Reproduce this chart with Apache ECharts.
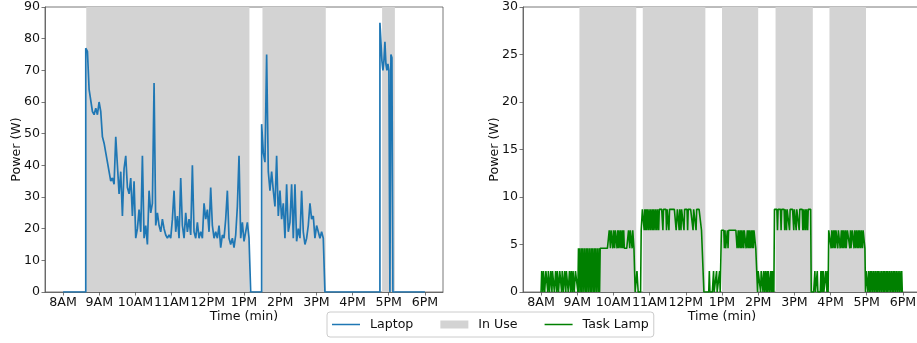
<!DOCTYPE html>
<html>
<head>
<meta charset="utf-8">
<script src="https://cdn.jsdelivr.net/npm/echarts@6/dist/echarts.min.js"></script>
<style>
  html, body { margin: 0; padding: 0; background: #fff; }
  #chart { width: 917px; height: 343px; }
</style>
</head>
<body>
<div id="chart"></div>
<script>
// Time axis is in minutes after midnight; ticks every hour from 8AM to 6PM.
const hourTicks = [480, 540, 600, 660, 720, 780, 840, 900, 960, 1020, 1080];
const hourLabels = ['8AM', '9AM', '10AM', '11AM', '12PM', '1PM', '2PM', '3PM', '4PM', '5PM', '6PM'];

// Periods when each device was in use: [start minute, end minute]
const laptopInUse = [[518.4, 789], [810.6, 915.6], [1009, 1030.2]];
const lampInUse = [[543.6, 637.8], [648.6, 752.4], [780, 840], [868.8, 930.6], [958.2, 1018.8]];

// Laptop power (W): three powered-on runs, each sampled at a fixed step (minutes)
const laptopDayStart = 480;
const laptopDayEnd = 1080;
const laptopRun1Start = 517.6;
const laptopRun1Step = 2.7625;
const laptopRun1 = [
  77, 76, 64, 64, 57, 56, 58, 56, 60, 57,
  49, 47, 44, 41, 38, 35, 36, 34, 49, 40,
  31, 38, 24, 39, 43, 33, 31, 36, 24, 35,
  17, 20, 26, 19, 43, 17, 21, 15, 32, 25,
  28, 66, 21, 25, 21, 19, 23, 20, 18, 17,
  18, 17, 23, 32, 19, 24, 17, 36, 21, 17,
  25, 19, 23, 18, 40, 19, 17, 22, 17, 19,
  17, 28, 23, 26, 19, 33, 21, 17, 19, 17,
  21, 14, 18, 17, 23, 32, 17, 15, 17, 14,
  18, 27, 43, 17, 22, 16, 16, 22, 17, 0
];
const laptopRun2Start = 809.25;
const laptopRun2Step = 2.7625;
const laptopRun2 = [
  53, 44, 41, 75, 38, 32, 38, 32, 27, 43,
  24, 32, 23, 28, 17, 34, 19, 22, 34, 17,
  34, 16, 20, 17, 32, 19, 15, 17, 21, 28,
  23, 24, 17, 21, 19, 17, 19, 17, 0
];
const laptopRun3Start = 1005.4;
const laptopRun3Step = 1.6575;
const laptopRun3 = [85, 85, 73, 70, 73, 79, 72, 70, 72, 70, 0, 75, 74, 0];

// Task lamp power: one code per minute, one string per hour from 8AM to 5PM.
// Codes index into lampLevels (W).
const lampLevels = [0, 2.2, 4.6, 6.5, 8.7];
const lampByHour = [
  '0110110011' + '1011001101' + '1100110110' + '0111011001' + '1011100110' + '1101100111',
  '1020220202' + '2022020220' + '2202022020' + '2202202022' + '2222222222' + '2223323332',
  '3323332323' + '3233232322' + '2222233233' + '3233220001' + '1000003344' + '4343434434',
  '4344343443' + '4434434444' + '4434444434' + '4434444444' + '4444334443' + '4434444344',
  '4443444444' + '4434444344' + '4444443333' + '0000000001' + '0000001000' + '0100001003',
  '3333232223' + '2333333333' + '3333322322' + '3232232333' + '2232323223' + '2323332220',
  '1111011101' + '1011010110' + '0101010444' + '4434444434' + '4444344344' + '4434444443',
  '4443444434' + '4444343343' + '4434444400' + '0000100010' + '0000101010' + '0011010333',
  '3232232323' + '3323332232' + '3233232233' + '3323223332' + '3323323233' + '2332333201',
  '1101101011' + '0110110101' + '1011011010' + '1101011011' + '0110101101' + '1011011010'
];
const lampFirstMinute = 480;

// ---- build series data ----
function runPoints(start, step, values) {
  const pts = [[start, 0]];
  values.forEach((v, i) => pts.push([start + i * step, v]));
  return pts;
}
const laptopData = [[laptopDayStart, 0]]
  .concat(runPoints(laptopRun1Start, laptopRun1Step, laptopRun1))
  .concat(runPoints(laptopRun2Start, laptopRun2Step, laptopRun2))
  .concat(runPoints(laptopRun3Start, laptopRun3Step, laptopRun3));
laptopData.push([laptopDayEnd, 0]);

const lampData = [];
lampByHour.forEach((codes, h) => {
  for (let i = 0; i < codes.length; i++) {
    lampData.push([lampFirstMinute + h * 60 + i, lampLevels[Number(codes[i])]]);
  }
});
lampData.push([lampFirstMinute + lampByHour.length * 60, 0]);

// ---- styling ----
const FONT = 'DejaVu Sans';
const TEXT = '#111';
const SPINE = '#555';
const BAND = '#d3d3d3';
const LAPTOP_COLOR = '#1f77b4';
const LAMP_COLOR = '#008000';
const fs = 12.6;
// legend swatch for the line series: a 1.6px bar across a 28x8 box
const LINE_ICON = 'path://M0,0h0.01v0.01h-0.01Z M0,3.2h28v1.6h-28Z M27.99,7.99h0.01v0.01h-0.01Z';

function xAxisCfg(gridIndex) {
  return {
    type: 'value', gridIndex, min: 450, max: 1110,
    name: 'Time (min)', nameLocation: 'middle', nameGap: 18, nameMoveOverlap: false,
    nameTextStyle: { fontFamily: FONT, fontSize: fs, color: TEXT },
    axisLine: { show: true, onZero: false, lineStyle: { color: SPINE, width: 0.8 } },
    axisTick: { show: true, length: 3.5, customValues: hourTicks, lineStyle: { color: SPINE, width: 0.8 } },
    axisLabel: {
      customValues: hourTicks, margin: 4, fontFamily: FONT, fontSize: fs, color: TEXT,
      formatter: v => hourLabels[hourTicks.indexOf(v)]
    },
    splitLine: { show: false }
  };
}
function yAxisCfg(gridIndex, max, interval) {
  return {
    type: 'value', gridIndex, min: 0, max, interval,
    name: 'Power (W)', nameLocation: 'middle', nameGap: 22, nameMoveOverlap: false,
    nameTextStyle: { fontFamily: FONT, fontSize: fs, color: TEXT },
    axisLine: { show: true, lineStyle: { color: SPINE, width: 0.8 } },
    axisTick: { show: true, length: 3.5, lineStyle: { color: SPINE, width: 0.8 } },
    axisLabel: { margin: 5, fontFamily: FONT, fontSize: fs, color: TEXT },
    splitLine: { show: false }
  };
}
function bandRender(params, api) {
  const x0 = api.coord([api.value(0), 0])[0];
  const x1 = api.coord([api.value(1), 0])[0];
  const cs = params.coordSys;
  return { type: 'rect', shape: { x: x0, y: cs.y, width: x1 - x0, height: cs.height }, style: { fill: BAND } };
}
const gridBase = { show: true, top: 7, height: 285, width: 398, borderColor: SPINE, borderWidth: 0.8, backgroundColor: 'transparent', outerBoundsMode: 'none', containLabel: false };

const chart = echarts.init(document.getElementById('chart'), null, { renderer: 'canvas' });
chart.setOption({
  animation: false,
  backgroundColor: '#fff',
  grid: [
    Object.assign({ left: 45 }, gridBase),
    Object.assign({ left: 523 }, gridBase)
  ],
  xAxis: [xAxisCfg(0), xAxisCfg(1)],
  yAxis: [yAxisCfg(0, 90, 10), yAxisCfg(1, 30, 5)],
  legend: {
    left: 327, top: 312, orient: 'horizontal',
    padding: [6, 5], itemGap: 27, itemWidth: 28, itemHeight: 8,
    borderColor: '#ccc', borderWidth: 1, borderRadius: 3, backgroundColor: '#fff',
    textStyle: { fontFamily: FONT, fontSize: fs, color: TEXT, padding: [0, 0, 0, 5] },
    data: [
      { name: 'Laptop', icon: LINE_ICON, symbolKeepAspect: false, itemStyle: { color: LAPTOP_COLOR } },
      { name: 'In Use', icon: 'rect', itemStyle: { color: BAND } },
      { name: 'Task Lamp', icon: LINE_ICON, symbolKeepAspect: false, itemStyle: { color: LAMP_COLOR } }
    ]
  },
  series: [
    {
      name: 'In Use', type: 'custom', xAxisIndex: 0, yAxisIndex: 0, z: 1,
      renderItem: bandRender, itemStyle: { color: BAND },
      encode: { x: [0, 1], y: 2 }, data: laptopInUse.map(p => [p[0], p[1], 0])
    },
    {
      name: 'In Use', type: 'custom', xAxisIndex: 1, yAxisIndex: 1, z: 1,
      renderItem: bandRender, itemStyle: { color: BAND },
      encode: { x: [0, 1], y: 2 }, data: lampInUse.map(p => [p[0], p[1], 0])
    },
    {
      name: 'Laptop', type: 'line', xAxisIndex: 0, yAxisIndex: 0, z: 3,
      symbol: 'none', showSymbol: false, clip: true,
      lineStyle: { color: LAPTOP_COLOR, width: 1.7 }, itemStyle: { color: LAPTOP_COLOR },
      data: laptopData
    },
    {
      name: 'Task Lamp', type: 'line', xAxisIndex: 1, yAxisIndex: 1, z: 3,
      symbol: 'none', showSymbol: false, clip: true,
      lineStyle: { color: LAMP_COLOR, width: 1.6 }, itemStyle: { color: LAMP_COLOR },
      data: lampData
    }
  ]
});
</script>
</body>
</html>
